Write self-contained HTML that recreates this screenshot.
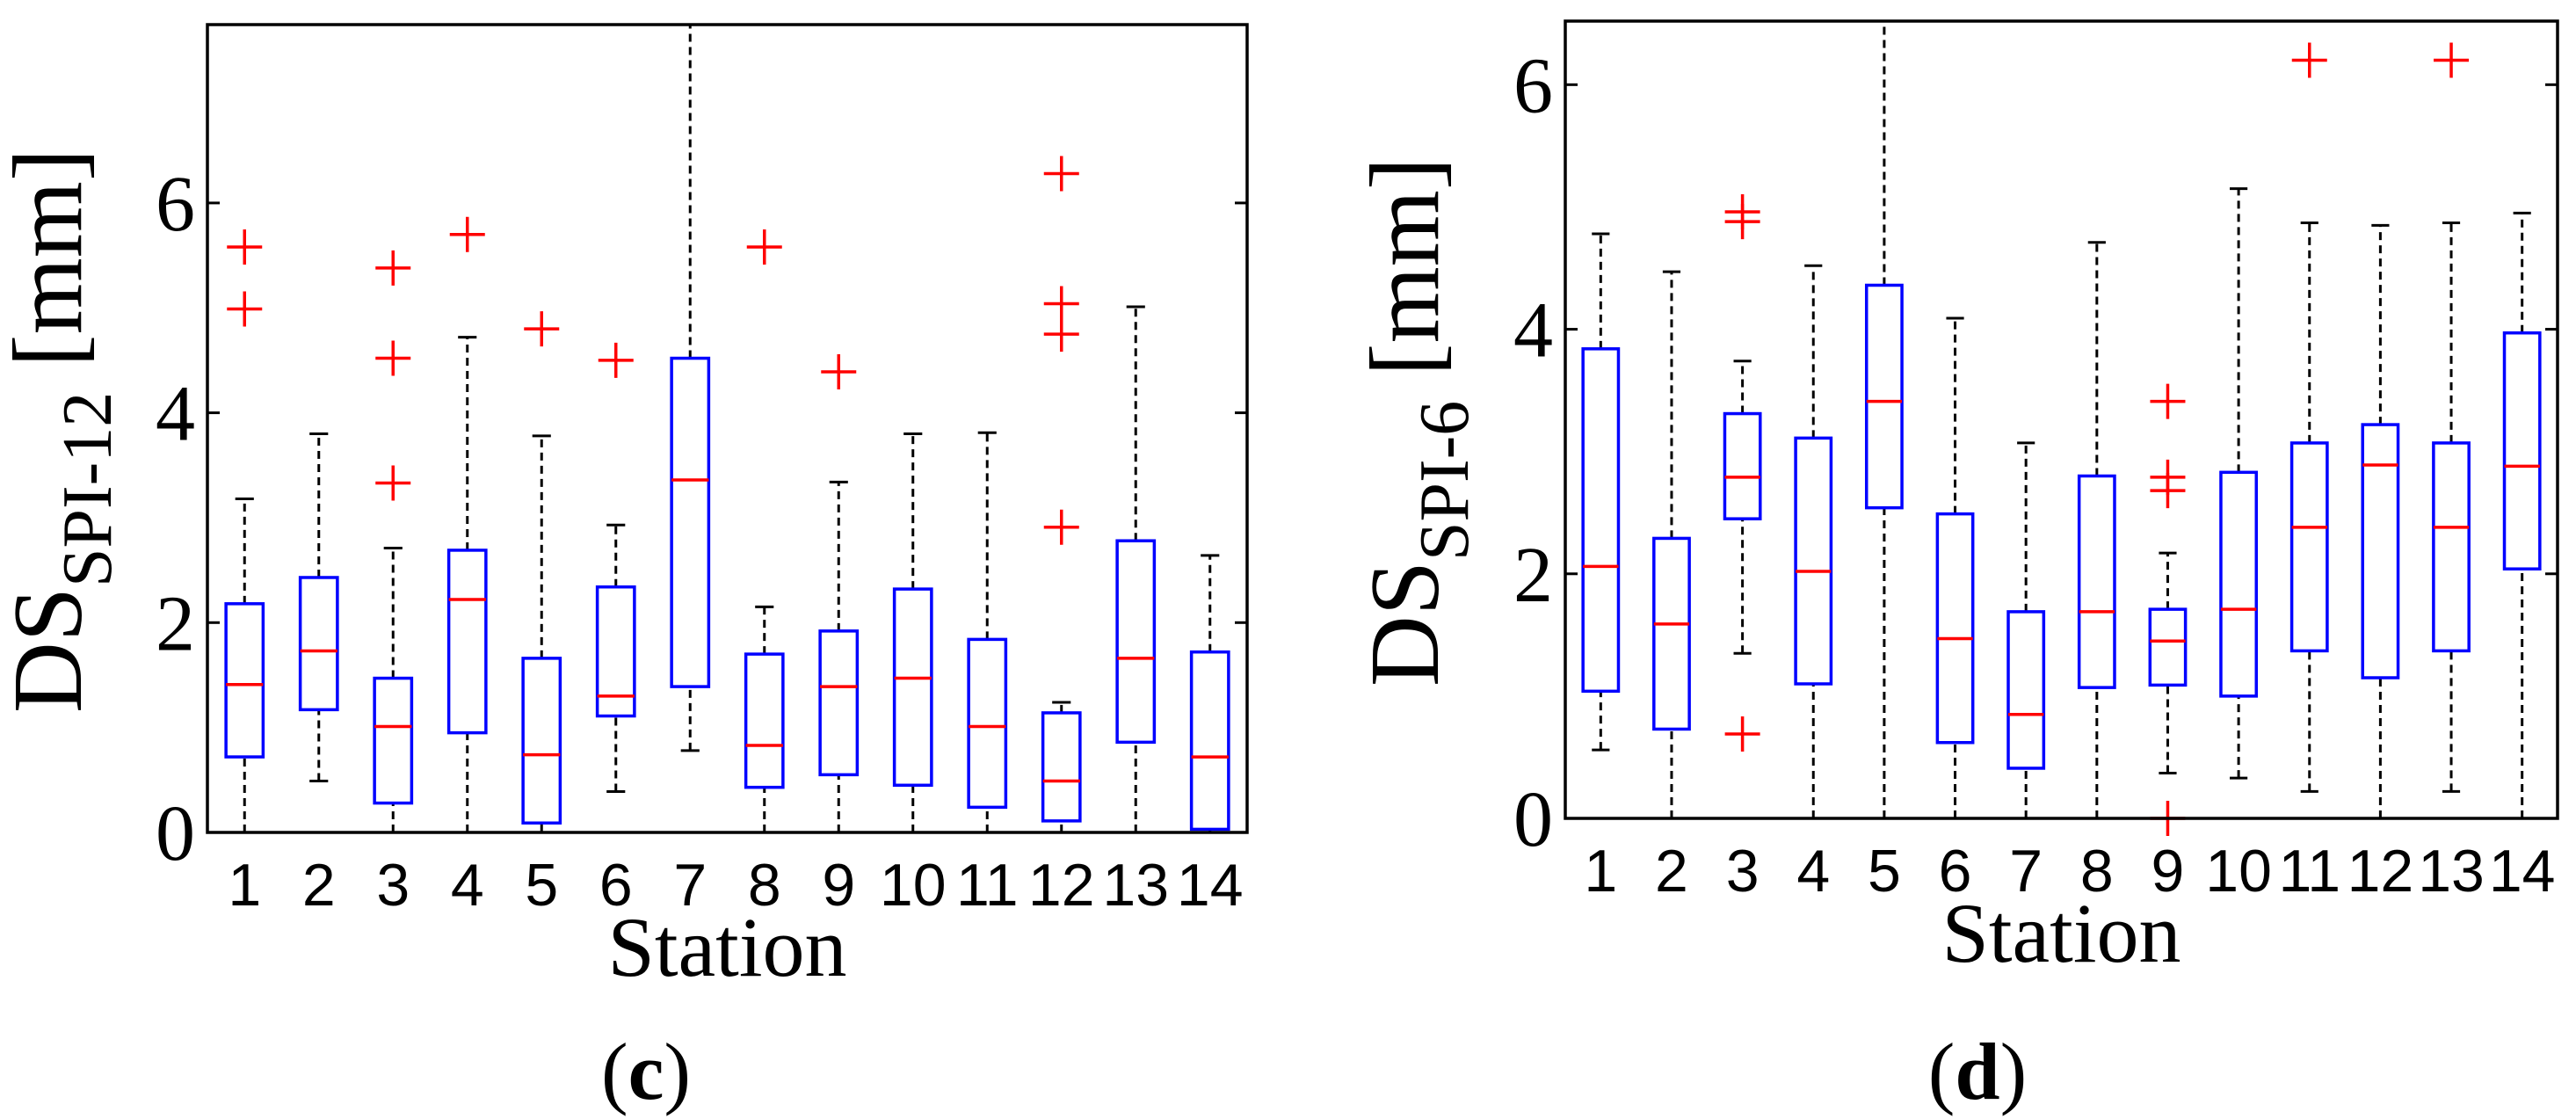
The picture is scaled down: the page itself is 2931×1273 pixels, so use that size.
<!DOCTYPE html>
<html><head><meta charset="utf-8"><style>
html,body{margin:0;padding:0;background:#fff;width:2931px;height:1273px;overflow:hidden}
svg{display:block}
</style></head><body>
<svg id="fig" width="2931" height="1273" xmlns="http://www.w3.org/2000/svg"></svg>
<script>
// Panel (c) data: DS SPI-12
const stationsC = [1,2,3,4,5,6,7,8,9,10,11,12,13,14];
const whiskerLowC = [0,0.49,0,0,0,0.39,0.78,0,0,0,0,0,0,0];
const q1C = [0.72,1.17,0.28,0.95,0.09,1.11,1.39,0.43,0.55,0.45,0.24,0.11,0.86,0.03];
const medianC = [1.41,1.73,1.01,2.22,0.74,1.30,3.36,0.83,1.39,1.47,1.01,0.49,1.66,0.72];
const q3C = [2.18,2.43,1.47,2.69,1.66,2.34,4.52,1.70,1.92,2.32,1.84,1.14,2.78,1.72];
const whiskerHighC = [3.18,3.80,2.71,4.72,3.78,2.93,8.0,2.15,3.34,3.80,3.81,1.24,5.01,2.64];
const outlierStationC = [1,1,3,3,3,4,5,6,8,9,12,12,12,12];
const outlierValueC = [5.58,4.99,5.38,4.52,3.33,5.70,4.80,4.50,5.58,4.39,6.28,5.04,4.75,2.91];
const yTicksC = [0,2,4,6];

// Panel (d) data: DS SPI-6
const stationsD = [1,2,3,4,5,6,7,8,9,10,11,12,13,14];
const whiskerLowD = [0.56,0,1.35,0,0,0,0,0,0.37,0.33,0.22,0,0.22,0];
const q1D = [1.04,0.73,2.45,1.10,2.54,0.62,0.41,1.07,1.09,1.00,1.37,1.15,1.37,2.04];
const medianD = [2.06,1.59,2.79,2.02,3.41,1.47,0.85,1.69,1.45,1.71,2.38,2.89,2.38,2.88];
const q3D = [3.84,2.29,3.31,3.11,4.36,2.49,1.69,2.80,1.71,2.83,3.07,3.22,3.07,3.97];
const whiskerHighD = [4.78,4.47,3.74,4.52,7.0,4.09,3.07,4.71,2.17,5.15,4.87,4.85,4.87,4.95];
const outlierStationD = [3,3,3,9,9,9,9,11,13];
const outlierValueD = [4.96,4.88,0.69,3.41,2.79,2.68,0,6.2,6.2];
const yTicksD = [0,2,4,6];

const NS = 'http://www.w3.org/2000/svg';
const svg = document.getElementById('fig');
function mk(tag, attrs, parent){
  const e = document.createElementNS(NS, tag);
  for (const k in attrs) e.setAttribute(k, attrs[k]);
  (parent||svg).appendChild(e);
  return e;
}

function panel(id, cfg, d){
  const g = mk('g', {});
  
  
  const X = s => cfg.x0 + (s - 0.5) * (cfg.x1 - cfg.x0) / 14;
  const Y = v => cfg.y1 - v * (cfg.y1 - cfg.y0) / cfg.ymax;
  const clipId = 'clip-' + id;
  const defs = mk('defs', {}, g);
  const cp = mk('clipPath', {id: clipId}, defs);
  mk('rect', {x: cfg.x0, y: cfg.y0, width: cfg.x1 - cfg.x0, height: cfg.y1 - cfg.y0}, cp);
  const plot = mk('g', {'clip-path': 'url(#' + clipId + ')'}, g);
  const bw = 0.25 * (cfg.x1 - cfg.x0) / 14;
  const cw = 0.125 * (cfg.x1 - cfg.x0) / 14;
  for (let i = 0; i < d.stations.length; i++){
    const s = d.stations[i], cx = X(s);
    const bg = mk('g', {}, plot);
    
    
    const w1 = mk('line', {x1: cx, x2: cx, y1: Y(d.q3[i]), y2: Y(d.hi[i]), stroke: '#000', 'stroke-width': 3, 'stroke-dasharray': '9,6'}, bg);
    
    
    const w2 = mk('line', {x1: cx, x2: cx, y1: Y(d.lo[i]), y2: Y(d.q1[i]), stroke: '#000', 'stroke-width': 3, 'stroke-dasharray': '9,6'}, bg);
    
    
    mk('line', {x1: cx - cw, x2: cx + cw, y1: Y(d.hi[i]), y2: Y(d.hi[i]), stroke: '#000', 'stroke-width': 3}, bg);
    mk('line', {x1: cx - cw, x2: cx + cw, y1: Y(d.lo[i]), y2: Y(d.lo[i]), stroke: '#000', 'stroke-width': 3}, bg);
    const r = mk('rect', {x: cx - bw, y: Y(d.q3[i]), width: 2 * bw, height: Y(d.q1[i]) - Y(d.q3[i]), fill: 'none', stroke: '#0000ff', 'stroke-width': 3.5}, bg);
    
    
    const m = mk('line', {x1: cx - bw, x2: cx + bw, y1: Y(d.med[i]), y2: Y(d.med[i]), stroke: '#ff0000', 'stroke-width': 3.5}, bg);
    
    
  }
  for (let i = 0; i < d.os.length; i++){
    const cx = X(d.os[i]), cy = Y(d.ov[i]);
    const o = mk('path', {d: 'M' + (cx - 20) + ' ' + cy + 'H' + (cx + 20) + 'M' + cx + ' ' + (cy - 20) + 'V' + (cy + 20), stroke: '#ff0000', 'stroke-width': 3.5, fill: 'none'}, g);
    
    
  }
  const ax = mk('rect', {x: cfg.x0, y: cfg.y0, width: cfg.x1 - cfg.x0, height: cfg.y1 - cfg.y0, fill: 'none', stroke: '#000', 'stroke-width': 3.5}, g);
  
  
  for (const t of d.yt){
    const y = Y(t);
    mk('line', {x1: cfg.x0, x2: cfg.x0 + 14, y1: y, y2: y, stroke: '#000', 'stroke-width': 3}, g);
    mk('line', {x1: cfg.x1 - 14, x2: cfg.x1, y1: y, y2: y, stroke: '#000', 'stroke-width': 3}, g);
    const tx = mk('text', {x: cfg.x0 - 14, y: y + 31, 'text-anchor': 'end', 'font-family': '"Liberation Serif", serif', 'font-size': 90}, g);
    tx.textContent = t;
    
    
  }
  for (const s of d.stations){
    const tx = mk('text', {x: X(s), y: cfg.y1 + 83, 'text-anchor': 'middle', 'font-family': '"Liberation Sans", sans-serif', 'font-size': 68}, g);
    tx.textContent = s;
    
    
  }
  const xl = mk('text', {x: (cfg.x0 + cfg.x1) / 2, y: cfg.y1 + 163, 'text-anchor': 'middle', 'font-family': '"Liberation Serif", serif', 'font-size': 96}, g);
  xl.textContent = 'Station';
  
  
  const yl = mk('text', {transform: 'translate(' + cfg.ylx + ',' + cfg.yly + ') rotate(-90)', 'text-anchor': 'middle', 'font-family': '"Liberation Serif", serif', 'font-size': 112}, g);
  
  
  const t1 = mk('tspan', {}, yl); t1.textContent = 'DS';
  const t2 = mk('tspan', {'font-size': 80, dy: 34}, yl); t2.textContent = cfg.sub;
  const t3 = mk('tspan', {dy: -34}, yl); t3.textContent = ' [mm]';
  const cap = mk('text', {x: cfg.capx, y: 1250, 'text-anchor': 'middle', 'font-family': '"Liberation Serif", serif', 'font-size': 92}, g);
  
  
  const c1 = mk('tspan', {}, cap); c1.textContent = '(';
  const c2 = mk('tspan', {'font-weight': 'bold'}, cap); c2.textContent = cfg.letter;
  const c3 = mk('tspan', {}, cap); c3.textContent = ')';
}

panel('c', {x0: 236, x1: 1419, y0: 28, y1: 947, ymax: 7.7, ylx: 92, yly: 490, sub: 'SPI-12', capx: 735, letter: 'c'},
  {stations: stationsC, lo: whiskerLowC, q1: q1C, med: medianC, q3: q3C, hi: whiskerHighC, os: outlierStationC, ov: outlierValueC, yt: yTicksC});
panel('d', {x0: 1781, x1: 2910, y0: 24, y1: 931, ymax: 6.52, ylx: 1636, yly: 480, sub: 'SPI-6', capx: 2250, letter: 'd'},
  {stations: stationsD, lo: whiskerLowD, q1: q1D, med: medianD, q3: q3D, hi: whiskerHighD, os: outlierStationD, ov: outlierValueD, yt: yTicksD});
</script>
</body></html>
